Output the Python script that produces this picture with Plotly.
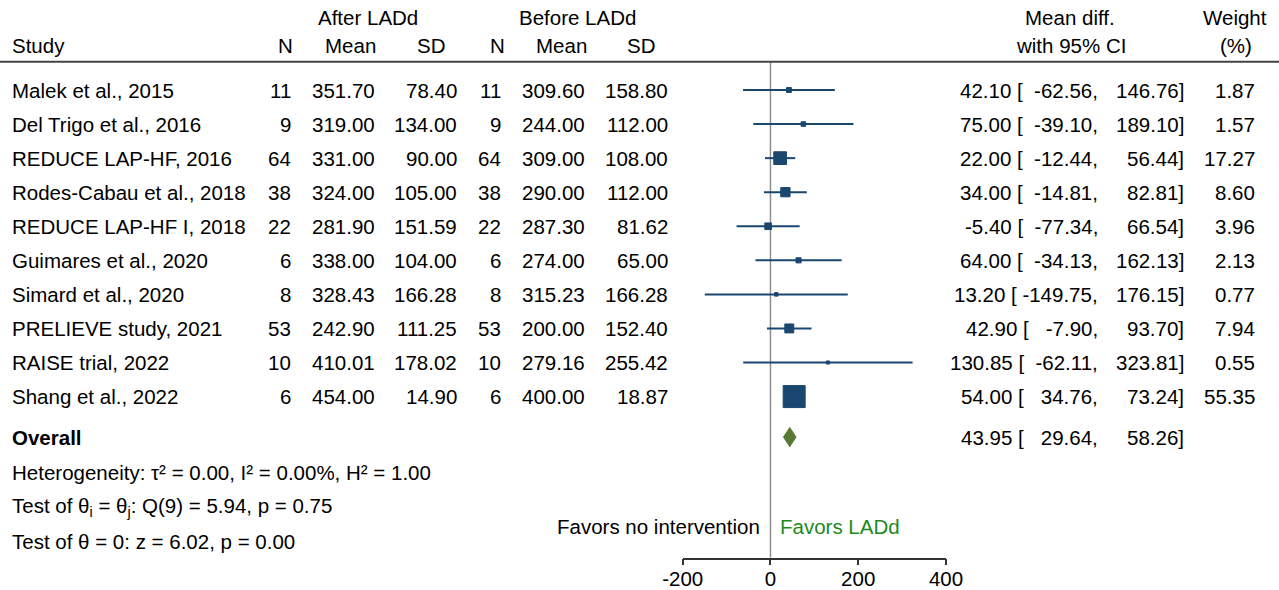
import math
import plotly.graph_objects as go

# ---- study data -----------------------------------------------------------
studies = [
    "Malek et al., 2015",
    "Del Trigo et al., 2016",
    "REDUCE LAP-HF, 2016",
    "Rodes-Cabau et al., 2018",
    "REDUCE LAP-HF I, 2018",
    "Guimares et al., 2020",
    "Simard et al., 2020",
    "PRELIEVE study, 2021",
    "RAISE trial, 2022",
    "Shang et al., 2022",
]
n_after = [11, 9, 64, 38, 22, 6, 8, 53, 10, 6]
mean_after = [351.70, 319.00, 331.00, 324.00, 281.90, 338.00, 328.43, 242.90, 410.01, 454.00]
sd_after = [78.40, 134.00, 90.00, 105.00, 151.59, 104.00, 166.28, 111.25, 178.02, 14.90]
n_before = [11, 9, 64, 38, 22, 6, 8, 53, 10, 6]
mean_before = [309.60, 244.00, 309.00, 290.00, 287.30, 274.00, 315.23, 200.00, 279.16, 400.00]
sd_before = [158.80, 112.00, 108.00, 112.00, 81.62, 65.00, 166.28, 152.40, 255.42, 18.87]
mean_diff = [42.10, 75.00, 22.00, 34.00, -5.40, 64.00, 13.20, 42.90, 130.85, 54.00]
ci_low = [-62.56, -39.10, -12.44, -14.81, -77.34, -34.13, -149.75, -7.90, -62.11, 34.76]
ci_high = [146.76, 189.10, 56.44, 82.81, 66.54, 162.13, 176.15, 93.70, 323.81, 73.24]
weight = [1.87, 1.57, 17.27, 8.60, 3.96, 2.13, 0.77, 7.94, 0.55, 55.35]

overall_diff = 43.95
overall_low = 29.64
overall_high = 58.26

x_ticks = [-200, 0, 200, 400]

heterogeneity = "Heterogeneity: τ² = 0.00, I² = 0.00%, H² = 1.00"
test_homog = "Test of θ<sub>i</sub> = θ<sub>j</sub>: Q(9) = 5.94, p = 0.75"
test_zero = "Test of θ = 0: z = 6.02, p = 0.00"

# ---- layout constants -----------------------------------------------------
W, H = 1279, 590
FONT = "Liberation Sans, Arial, Helvetica, sans-serif"
FS = 20.5
NAVY = "#1a476f"
DIAMOND = "#587a34"
GREEN = "#1b8a1b"
NBSP = "\u00a0"

# right edges of the numeric table columns (px)
COL_N1, COL_M1, COL_S1 = 293, 377, 459
COL_N2, COL_M2, COL_S2 = 503, 587, 670

rows = list(range(len(studies)))
ROW_OVERALL = 10.19
ROW_HET = 11.24
ROW_T1 = 12.25
ROW_T2 = 13.24
ROW_FAVORS = 12.82
ROW_HEAD1 = -2.13
ROW_HEAD2 = -1.31
ROW_RULE = -0.83
ROW_AXIS = 13.73
ROW_TOP = -2.642


def fmt(v):
    return f"{v:.2f}"


def padded(v, width=7):
    s = fmt(v)
    return NBSP * max(0, width - len(s)) + s


def txt(s, x_px, y, anchor="right", color="black"):
    return dict(
        text=s, x=x_px / W, xref="paper", y=y, yref="y",
        xanchor=anchor, yanchor="middle", showarrow=False,
        font=dict(family=FONT, size=FS, color=color),
    )


def ci_cells(m, lo, hi, y):
    # "m [  lo,  hi]" laid out as two right-aligned pieces
    left = fmt(m) + NBSP + "[" + NBSP + padded(lo) + ","
    return [txt(left, 1100, y), txt(fmt(hi) + "]", 1186, y)]


annotations = []

# column headers
annotations += [
    txt("After LADd", 368, ROW_HEAD1, "center"),
    txt("Before LADd", 577, ROW_HEAD1, "center"),
    txt("Mean diff.", 1070, ROW_HEAD1, "center"),
    txt("Weight", 1235, ROW_HEAD1, "center"),
    txt("Study", 10, ROW_HEAD2, "left"),
    txt("N", 285, ROW_HEAD2, "center"),
    txt("Mean", 350, ROW_HEAD2, "center"),
    txt("SD", 431, ROW_HEAD2, "center"),
    txt("N", 497, ROW_HEAD2, "center"),
    txt("Mean", 561, ROW_HEAD2, "center"),
    txt("SD", 641, ROW_HEAD2, "center"),
    txt("with 95% CI", 1071, ROW_HEAD2, "center"),
    txt("(%)", 1236, ROW_HEAD2, "center"),
]

# per-study table rows
for i in rows:
    annotations += [
        txt(studies[i], 10, i, "left"),
        txt(str(n_after[i]), COL_N1, i),
        txt(fmt(mean_after[i]), COL_M1, i),
        txt(fmt(sd_after[i]), COL_S1, i),
        txt(str(n_before[i]), COL_N2, i),
        txt(fmt(mean_before[i]), COL_M2, i),
        txt(fmt(sd_before[i]), COL_S2, i),
        txt(fmt(weight[i]), 1257, i),
    ]
    annotations += ci_cells(mean_diff[i], ci_low[i], ci_high[i], i)

# overall estimate and summary statistics
annotations += [txt("<b>Overall</b>", 10, ROW_OVERALL, "left")]
annotations += ci_cells(overall_diff, overall_low, overall_high, ROW_OVERALL)
annotations += [
    txt(heterogeneity, 10, ROW_HET, "left"),
    txt(test_homog, 10, ROW_T1, "left"),
    txt(test_zero, 10, ROW_T2, "left"),
    txt("Favors no intervention", 762, ROW_FAVORS, "right"),
    txt("Favors LADd", 778, ROW_FAVORS, "left", GREEN),
]

fig = go.Figure()

# confidence-interval whiskers
ci_x, ci_y = [], []
for i in rows:
    ci_x += [ci_low[i], ci_high[i], None]
    ci_y += [i, i, None]
fig.add_trace(go.Scatter(
    x=ci_x, y=ci_y, mode="lines",
    line=dict(color=NAVY, width=2), hoverinfo="skip", showlegend=False,
))

# study estimates, square area proportional to weight
fig.add_trace(go.Scatter(
    x=mean_diff, y=rows, mode="markers",
    marker=dict(symbol="square", color=NAVY, opacity=1,
                size=[2.82 * math.sqrt(w) + 1 for w in weight],
                line=dict(color=NAVY, width=1)),
    showlegend=False,
))

# pooled estimate diamond spanning its confidence interval
half_h = 0.28
fig.add_trace(go.Scatter(
    x=[overall_low, overall_diff, overall_high, overall_diff, overall_low],
    y=[ROW_OVERALL, ROW_OVERALL - half_h, ROW_OVERALL, ROW_OVERALL + half_h, ROW_OVERALL],
    mode="lines", fill="toself", fillcolor=DIAMOND,
    line=dict(color=DIAMOND, width=1), showlegend=False,
))

shapes = [
    # no-effect reference line
    dict(type="line", xref="x", yref="y", x0=0, x1=0, y0=ROW_RULE, y1=ROW_AXIS,
         line=dict(color="#8f8f8f", width=1.5), layer="below"),
    # rule under the column headers
    dict(type="line", xref="paper", yref="y", x0=0, x1=1, y0=ROW_RULE, y1=ROW_RULE,
         line=dict(color="#444444", width=2)),
]

fig.update_layout(
    width=W, height=H,
    margin=dict(l=0, r=0, t=0, b=0, autoexpand=False),
    paper_bgcolor="white", plot_bgcolor="white",
    font=dict(family=FONT, size=FS, color="black"),
    annotations=annotations, shapes=shapes,
    xaxis=dict(
        domain=[682.7 / W, 946.0 / W], range=[-200, 400],
        tickvals=x_ticks, ticktext=[str(v) for v in x_ticks],
        ticks="outside", ticklen=6, tickwidth=1.5, ticklabelstandoff=-4,
        tickcolor="#333333", showline=True, linecolor="#333333", linewidth=1.5,
        showgrid=False, zeroline=False, automargin=False,
        tickfont=dict(size=FS, color="black"),
    ),
    yaxis=dict(
        domain=[(H - 557.7) / H, 1], range=[ROW_AXIS, ROW_TOP],
        visible=False, showgrid=False, zeroline=False, automargin=False,
    ),
)

fig.write_html("out.html")
